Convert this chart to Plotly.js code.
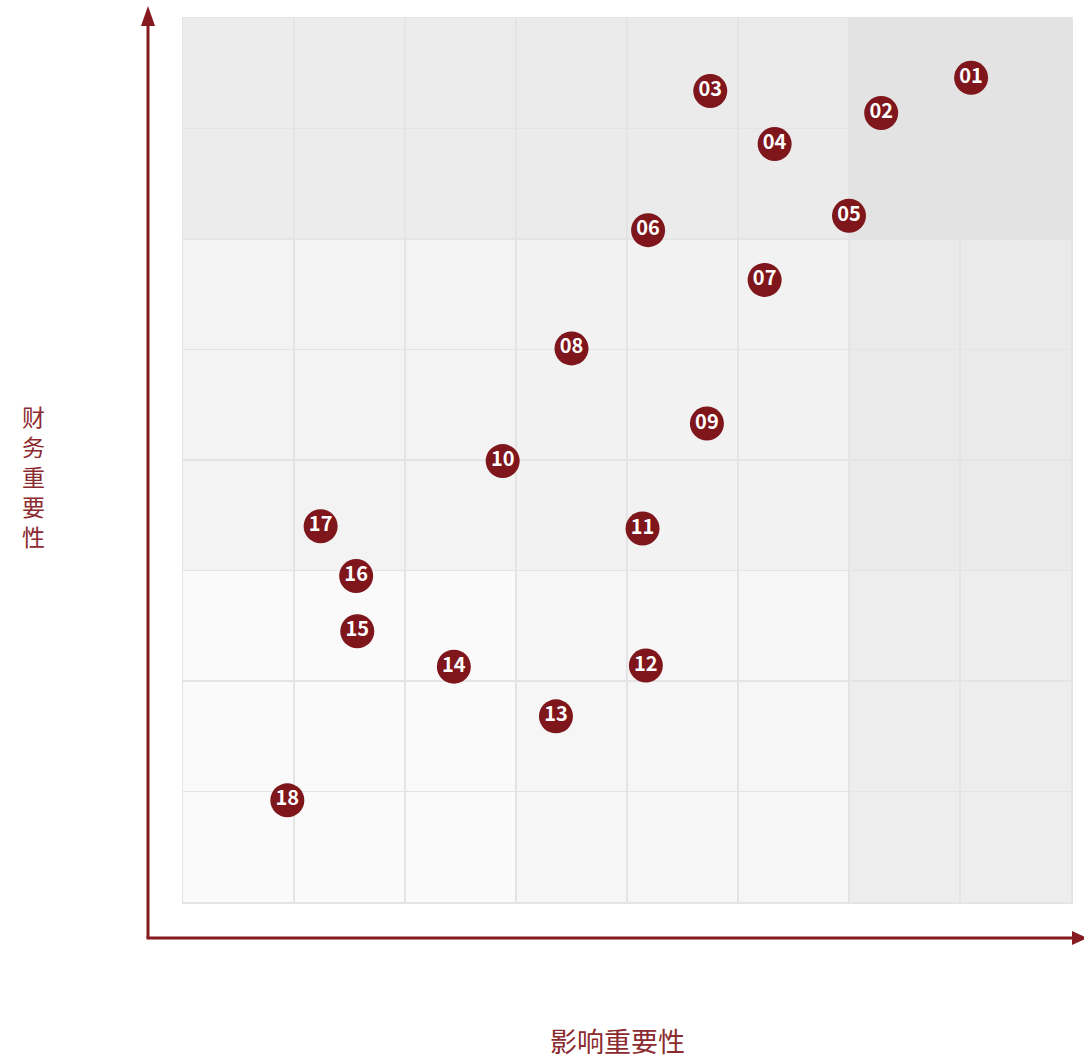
<!DOCTYPE html>
<html>
<head>
<meta charset="utf-8">
<script src="https://cdn.plot.ly/plotly-3.0.1.min.js"></script>
<style>html,body{margin:0;padding:0;background:#fff;}#chart{width:1084px;height:1059px;}</style>
</head>
<body>
<div id="chart"></div>
<script>
// Topic labels
const labels = ["01","02","03","04","05","06","07","08","09","10","11","12","13","14","15","16","17","18"];
// Impact materiality (x)
const impact = [7.10, 6.29, 4.75, 5.33, 6.00, 4.19, 5.24, 3.50, 4.72, 2.88, 4.14, 4.17, 3.36, 2.44, 1.57, 1.56, 1.24, 0.94];
// Financial materiality (y)
const financial = [7.46, 7.14, 7.34, 6.86, 6.21, 6.08, 5.63, 5.01, 4.33, 3.99, 3.38, 2.14, 1.68, 2.13, 2.45, 2.95, 3.40, 0.92];

const xTitle = "影响重要性";
const yTitle = "财务重要性";

// shaded zones (bounds in axis units)
const zoneX = [[0,3],[3,6],[6,8]];
const zoneY = [[0,3],[3,6],[6,8]];
const zoneColors = [
  ["#fafafa","#f6f6f6","#ededed"],
  ["#f3f3f3","#f2f2f2","#eaeaea"],
  ["#ececec","#ebebeb","#e3e3e3"]
];

const red = "#861a20";
const shapes = [];
zoneY.forEach((yr, i) => {
  zoneX.forEach((xr, j) => {
    shapes.push({type:"rect", xref:"x", yref:"y", x0:xr[0], x1:xr[1], y0:yr[0], y1:yr[1],
      fillcolor: zoneColors[i][j], line:{width:0}, layer:"below"});
  });
});

// paper coordinate helpers for arrows (plot area 888 x 884 px)
const W = 888, H = 884;
const px = v => v / W, py = v => v / H;
// y axis line
shapes.push({type:"line", xref:"paper", yref:"paper", x0:px(-35), x1:px(-35), y0:py(-36), y1:py(878), line:{color:red, width:3}});
shapes.push({type:"path", xref:"paper", yref:"paper",
  path:`M ${px(-35)} ${py(896)} L ${px(-42)} ${py(876)} L ${px(-28)} ${py(876)} Z`, fillcolor:red, line:{width:0}});
// x axis line
shapes.push({type:"line", xref:"paper", yref:"paper", x0:px(-36.5), x1:px(892), y0:py(-36), y1:py(-36), line:{color:red, width:3}});
shapes.push({type:"path", xref:"paper", yref:"paper",
  path:`M ${px(904)} ${py(-36)} L ${px(889)} ${py(-29)} L ${px(889)} ${py(-43)} Z`, fillcolor:red, line:{width:0}});

const trace = {
  type:"scatter", mode:"markers+text",
  x: impact, y: financial, text: labels,
  textposition:"middle center",
  textfont:{family:"Noto Sans CJK SC, Noto Sans, sans-serif", size:20, color:"#ffffff", weight:"bold"},
  marker:{size:34, color:"#7e161b", line:{width:0}},
  hoverinfo:"none", cliponaxis:false
};

const axisCommon = {
  range:[0,8], dtick:1, tick0:0, showgrid:true, gridcolor:"#e4e4e4", gridwidth:1.5,
  zeroline:false, showticklabels:false, ticks:"", showline:true, linecolor:"#e4e4e4", linewidth:1.5, mirror:true,
  fixedrange:true
};

const layout = {
  width:1084, height:1059,
  margin:{l:183, r:13, t:18, b:157},
  paper_bgcolor:"#ffffff", plot_bgcolor:"#f6f6f6",
  showlegend:false,
  xaxis:Object.assign({}, axisCommon),
  yaxis:Object.assign({}, axisCommon),
  shapes: shapes,
  annotations:[
    {xref:"paper", yref:"paper", x:px(434), y:py(-138), text:xTitle, showarrow:false,
     font:{family:"Noto Sans CJK SC, sans-serif", size:27, color:"#8b2a2f"}, xanchor:"center", yanchor:"middle"},
    {xref:"paper", yref:"paper", x:px(-150), y:py(426), text:yTitle.split("").join("<br>"), showarrow:false,
     font:{family:"Noto Sans CJK SC, sans-serif", size:23, color:"#8b2a2f"}, xanchor:"center", yanchor:"middle"}
  ]
};

Plotly.newPlot("chart", [trace], layout, {displayModeBar:false, staticPlot:true});
</script>
</body>
</html>
